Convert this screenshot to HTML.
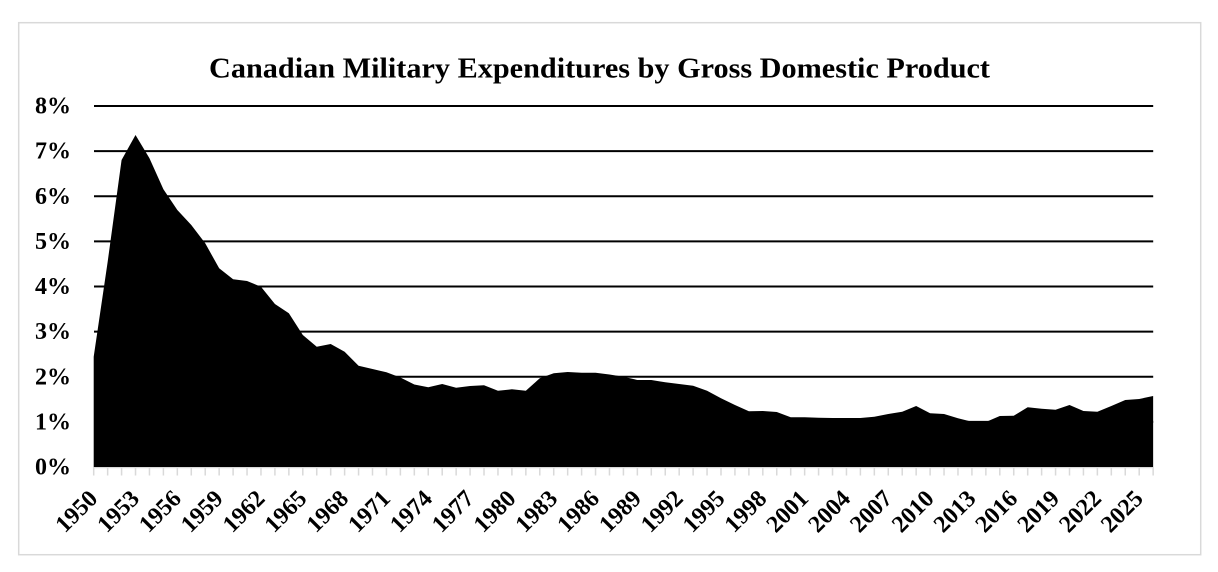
<!DOCTYPE html>
<html>
<head>
<meta charset="utf-8">
<style>
html,body{margin:0;padding:0;background:#fff;}
svg{display:block;}
text{font-family:"Liberation Serif","Times New Roman",serif;font-weight:bold;fill:#000;}
</style>
</head>
<body>
<svg width="1218" height="572" viewBox="0 0 1218 572" xmlns="http://www.w3.org/2000/svg">
<rect x="0" y="0" width="1218" height="572" fill="#fff"/>
<rect x="18.7" y="22.7" width="1182" height="532" fill="none" stroke="#d9d9d9" stroke-width="1.5"/>

<text x="209" y="77.5" font-size="29" textLength="781" lengthAdjust="spacingAndGlyphs">Canadian Military Expenditures by Gross Domestic Product</text>

<!-- gridlines -->
<g stroke="#000" stroke-width="2">
<line x1="94" y1="106" x2="1153.2" y2="106"/>
<line x1="94" y1="151.1" x2="1153.2" y2="151.1"/>
<line x1="94" y1="196.25" x2="1153.2" y2="196.25"/>
<line x1="94" y1="241.4" x2="1153.2" y2="241.4"/>
<line x1="94" y1="286.5" x2="1153.2" y2="286.5"/>
<line x1="94" y1="331.6" x2="1153.2" y2="331.6"/>
<line x1="94" y1="376.75" x2="1153.2" y2="376.75"/>
<line x1="94" y1="421.9" x2="1153.2" y2="421.9"/>
</g>

<!-- y labels -->
<g font-size="24" text-anchor="end">
<text x="71" y="113.5">8%</text>
<text x="71" y="158.6">7%</text>
<text x="71" y="203.75">6%</text>
<text x="71" y="248.9">5%</text>
<text x="71" y="294">4%</text>
<text x="71" y="339.1">3%</text>
<text x="71" y="384.25">2%</text>
<text x="71" y="429.4">1%</text>
<text x="71" y="474.5">0%</text>
</g>

<!-- area -->
<path fill="#000" d="M93.7,467 L93.7,356.7 L107.64,262 L121.58,160 L135.52,135 L149.46,158.3 L163.4,189.3 L177.34,210 L191.28,225 L205.22,243.3 L219.16,268.3 L233.1,279.3 L247.04,281 L260.98,286.7 L274.92,304 L288.86,313.3 L302.8,335 L316.74,346.7 L330.68,344 L344.62,351.7 L358.56,365.7 L372.5,369 L386.44,372.3 L400.38,377.5 L414.32,384.5 L428.26,387.3 L442.2,384 L456.14,387.7 L470.08,386 L484.02,385.3 L497.96,390.7 L511.9,389.3 L525.84,390.7 L539.78,378.3 L553.72,373.3 L567.66,372 L581.6,372.7 L595.54,372.7 L609.48,374.5 L623.42,376.7 L637.36,380 L651.3,380 L665.24,382.3 L679.18,384 L693.12,385.7 L707.06,390.7 L721,398.3 L734.94,405 L748.88,411.3 L762.82,411 L776.76,412 L790.7,417.3 L804.64,417.3 L818.58,417.7 L832.52,418 L846.46,418 L860.4,418 L874.34,416.7 L888.28,414 L902.22,411.7 L916.16,406 L930.1,413.3 L944.04,414 L957.98,418.3 L971.92,421.7 L985.86,422 L999.8,416 L1013.74,415.7 L1027.68,407.3 L1041.62,408.7 L1055.56,409.7 L1069.5,405 L1083.44,411 L1097.38,411.7 L1111.32,406 L1125.26,400 L1139.2,399 L1153.14,396 L1153.14,467 Z"/>

<!-- x axis + ticks -->
<line x1="93.7" y1="467.6" x2="1153.2" y2="467.6" stroke="#d9d9d9" stroke-width="1.2"/>
<path stroke="#d9d9d9" stroke-width="1.5" fill="none" d="M93.7,467V475.5M107.64,467V475.5M121.58,467V475.5M135.52,467V475.5M149.46,467V475.5M163.4,467V475.5M177.34,467V475.5M191.28,467V475.5M205.22,467V475.5M219.16,467V475.5M233.1,467V475.5M247.04,467V475.5M260.98,467V475.5M274.92,467V475.5M288.86,467V475.5M302.8,467V475.5M316.74,467V475.5M330.68,467V475.5M344.62,467V475.5M358.56,467V475.5M372.5,467V475.5M386.44,467V475.5M400.38,467V475.5M414.32,467V475.5M428.26,467V475.5M442.2,467V475.5M456.14,467V475.5M470.08,467V475.5M484.02,467V475.5M497.96,467V475.5M511.9,467V475.5M525.84,467V475.5M539.78,467V475.5M553.72,467V475.5M567.66,467V475.5M581.6,467V475.5M595.54,467V475.5M609.48,467V475.5M623.42,467V475.5M637.36,467V475.5M651.3,467V475.5M665.24,467V475.5M679.18,467V475.5M693.12,467V475.5M707.06,467V475.5M721,467V475.5M734.94,467V475.5M748.88,467V475.5M762.82,467V475.5M776.76,467V475.5M790.7,467V475.5M804.64,467V475.5M818.58,467V475.5M832.52,467V475.5M846.46,467V475.5M860.4,467V475.5M874.34,467V475.5M888.28,467V475.5M902.22,467V475.5M916.16,467V475.5M930.1,467V475.5M944.04,467V475.5M957.98,467V475.5M971.92,467V475.5M985.86,467V475.5M999.8,467V475.5M1013.74,467V475.5M1027.68,467V475.5M1041.62,467V475.5M1055.56,467V475.5M1069.5,467V475.5M1083.44,467V475.5M1097.38,467V475.5M1111.32,467V475.5M1125.26,467V475.5M1139.2,467V475.5M1153.14,467V475.5"/>

<!-- x labels -->
<g font-size="24" text-anchor="middle">
<text transform="translate(76.1,511) rotate(-45)" dy="8.2">1950</text>
<text transform="translate(117.9,511) rotate(-45)" dy="8.2">1953</text>
<text transform="translate(159.7,511) rotate(-45)" dy="8.2">1956</text>
<text transform="translate(201.6,511) rotate(-45)" dy="8.2">1959</text>
<text transform="translate(243.4,511) rotate(-45)" dy="8.2">1962</text>
<text transform="translate(285.2,511) rotate(-45)" dy="8.2">1965</text>
<text transform="translate(327.0,511) rotate(-45)" dy="8.2">1968</text>
<text transform="translate(368.8,511) rotate(-45)" dy="8.2">1971</text>
<text transform="translate(410.7,511) rotate(-45)" dy="8.2">1974</text>
<text transform="translate(452.5,511) rotate(-45)" dy="8.2">1977</text>
<text transform="translate(494.3,511) rotate(-45)" dy="8.2">1980</text>
<text transform="translate(536.1,511) rotate(-45)" dy="8.2">1983</text>
<text transform="translate(577.9,511) rotate(-45)" dy="8.2">1986</text>
<text transform="translate(619.8,511) rotate(-45)" dy="8.2">1989</text>
<text transform="translate(661.6,511) rotate(-45)" dy="8.2">1992</text>
<text transform="translate(703.4,511) rotate(-45)" dy="8.2">1995</text>
<text transform="translate(745.2,511) rotate(-45)" dy="8.2">1998</text>
<text transform="translate(787.0,511) rotate(-45)" dy="8.2">2001</text>
<text transform="translate(828.9,511) rotate(-45)" dy="8.2">2004</text>
<text transform="translate(870.7,511) rotate(-45)" dy="8.2">2007</text>
<text transform="translate(912.5,511) rotate(-45)" dy="8.2">2010</text>
<text transform="translate(954.3,511) rotate(-45)" dy="8.2">2013</text>
<text transform="translate(996.1,511) rotate(-45)" dy="8.2">2016</text>
<text transform="translate(1038.0,511) rotate(-45)" dy="8.2">2019</text>
<text transform="translate(1079.8,511) rotate(-45)" dy="8.2">2022</text>
<text transform="translate(1121.6,511) rotate(-45)" dy="8.2">2025</text>
</g>
</svg>
</body>
</html>
